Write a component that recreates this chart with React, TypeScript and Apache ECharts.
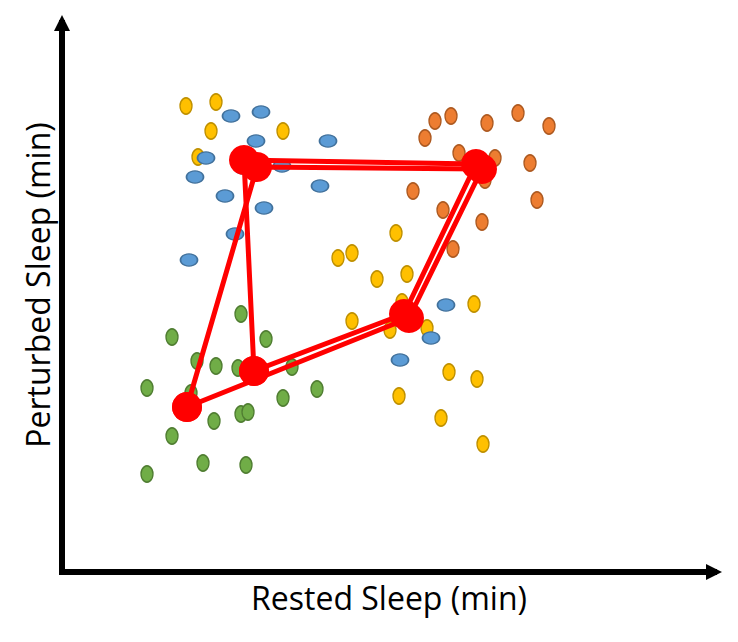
import React, { useEffect, useRef } from "react";
import * as echarts from "echarts";

// Arbitrary units (no scale shown on the chart)
const X_MAX = 652;
const Y_MAX = 549;

const xTitle = "Rested Sleep (min)";
const yTitle = "Perturbed Sleep (min)";

const yellowPoints: number[][] = [
  [124, 466], [154, 470], [149, 441], [221, 441], [136, 415],
  [276, 314], [290, 319], [334, 339], [315, 293], [345, 298],
  [290, 251], [340, 270], [328, 242], [365, 244], [412, 268],
  [387, 200], [415, 193], [337, 176], [379, 154], [421, 128],
];

const bluePoints: number[][] = [
  [169, 456], [199, 460], [194, 431], [266, 431], [144, 414],
  [133, 395], [181, 404], [220, 406], [258, 386], [163, 376],
  [202, 364], [173, 338], [127, 312], [384, 267], [369, 234],
  [338, 212],
];

const orangePoints: number[][] = [
  [373, 451], [389, 456], [425, 449], [456, 459], [487, 446],
  [363, 434], [397, 419], [433, 414], [468, 409], [423, 392],
  [351, 381], [475, 372], [381, 362], [420, 350], [391, 323],
];

const greenPoints: number[][] = [
  [179, 258], [110, 235], [204, 233], [135, 211], [154, 206],
  [176, 204], [230, 205], [85, 184], [129, 179], [221, 174],
  [255, 183], [152, 151], [179, 158], [186, 160], [110, 136],
  [141, 109], [184, 107], [85, 98],
];

// Two averaged trajectories (closed loops)
const meanLoopA: number[][] = [[125, 165], [195, 405], [420, 403], [347, 254]];
const meanLoopB: number[][] = [[192, 201], [182, 412], [414, 408], [342, 258]];

function scatter(name: string, data: number[][], fill: string, border: string, size: number[], z: number) {
  return {
    name,
    type: "scatter",
    data,
    symbol: "circle",
    symbolSize: size,
    z,
    itemStyle: { color: fill, borderColor: border, borderWidth: 1.5, opacity: 1 },
    emphasis: { disabled: true },
  };
}

function loop(name: string, pts: number[][]) {
  return {
    name,
    type: "line",
    data: [...pts, pts[0]],
    symbol: "circle",
    symbolSize: 30,
    showSymbol: true,
    showAllSymbol: true,
    z: 10,
    lineStyle: { color: "#ff0000", width: 5 },
    itemStyle: { color: "#ff0000", borderWidth: 0 },
    emphasis: { disabled: true },
  };
}

export default function App() {
  const ref = useRef<HTMLDivElement>(null);
  useEffect(() => {
    if (!ref.current) return;
    const chart = echarts.init(ref.current, undefined, { renderer: "svg" });
    const axisCommon = {
      type: "value",
      min: 0,
      axisLine: {
        show: true,
        symbol: ["none", "triangle"],
        symbolSize: [16, 16],
        lineStyle: { color: "#000000", width: 6, cap: "square" },
      },
      axisTick: { show: false },
      axisLabel: { show: false },
      splitLine: { show: false },
    };
    chart.setOption({
      animation: false,
      backgroundColor: "#ffffff",
      grid: { left: 62, right: 738 - 714, top: 23, bottom: 642 - 572 },
      xAxis: { ...axisCommon, max: X_MAX },
      yAxis: { ...axisCommon, max: Y_MAX },
      series: [
        scatter("Green", greenPoints, "#70ad47", "#507e32", [12, 16], 2),
        scatter("Orange", orangePoints, "#ed7d31", "#ae5a21", [12, 16], 2),
        scatter("Yellow", yellowPoints, "#ffc000", "#bf9000", [12, 16], 2),
        scatter("Blue", bluePoints, "#5b9bd5", "#41719c", [17, 12], 2),
        loop("Mean A", meanLoopA),
        loop("Mean B", meanLoopB),
      ],
      graphic: [
        {
          type: "text",
          x: 389,
          y: 597,
          style: {
            text: xTitle,
            font: '32px "Open Sans", sans-serif',
            fill: "#000000",
            align: "center",
            verticalAlign: "middle",
          },
        },
        {
          type: "text",
          x: 37,
          y: 285,
          rotation: Math.PI / 2,
          style: {
            text: yTitle,
            font: '32px "Open Sans", sans-serif',
            fill: "#000000",
            align: "center",
            verticalAlign: "middle",
          },
        },
      ],
    });
    return () => chart.dispose();
  }, []);
  return (
    <div
      ref={ref}
      style={{ position: "fixed", left: 0, top: 0, width: 738, height: 642, background: "#fff" }}
    />
  );
}
